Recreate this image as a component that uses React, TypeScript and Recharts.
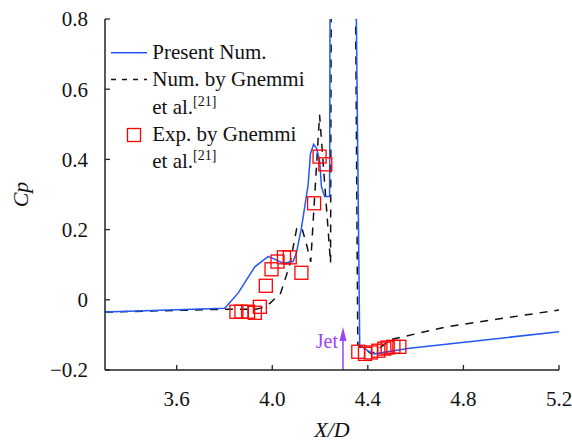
import React from "react";
import {
  ComposedChart,
  Line,
  Scatter,
  XAxis,
  YAxis,
  ReferenceLine,
  ReferenceDot,
  Legend,
} from "recharts";

// ---------- data ----------
const xTicks = [3.6, 4.0, 4.4, 4.8, 5.2];
const yTicks = [-0.2, 0, 0.2, 0.4, 0.6, 0.8];

const presentX = [3.3, 3.801, 3.857, 3.927, 3.982, 4.003, 4.045, 4.087, 4.101, 4.122, 4.15, 4.16, 4.173, 4.185, 4.198, 4.206, 4.219, 4.24, 4.243, 4.346, 4.366, 4.407, 4.428, 4.575, 5.2];
const presentCp = [-0.035, -0.024, 0.019, 0.094, 0.123, 0.118, 0.104, 0.109, 0.133, 0.204, 0.327, 0.417, 0.443, 0.432, 0.398, 0.322, 0.294, 0.294, 1.2, 1.2, -0.129, -0.148, -0.154, -0.138, -0.091];

const gnemmiX = [3.3, 3.8, 3.93, 3.956, 3.99, 4.035, 4.073, 4.102, 4.123, 4.144, 4.161, 4.198, 4.244, 4.248, 4.345, 4.358, 4.416, 4.498, 4.728, 5.2];
const gnemmiCp = [-0.035, -0.027, -0.027, -0.023, -0.01, 0.019, 0.099, 0.202, 0.207, 0.156, 0.108, 0.527, 0.105, 1.2, 1.2, -0.129, -0.154, -0.113, -0.077, -0.029];

const expX = [3.85, 3.871, 3.899, 3.927, 3.948, 3.973, 3.997, 4.022, 4.049, 4.073, 4.122, 4.175, 4.198, 4.222, 4.36, 4.388, 4.413, 4.444, 4.469, 4.483, 4.507, 4.532];
const expCp = [-0.034, -0.034, -0.034, -0.037, -0.02, 0.04, 0.087, 0.109, 0.121, 0.121, 0.077, 0.275, 0.408, 0.386, -0.148, -0.154, -0.15, -0.145, -0.139, -0.136, -0.134, -0.134];

const jetX = [4.296];
const jetTipCp = [-0.0775];

const presentData = presentX.map((x, i) => ({ x, y: presentCp[i] }));
const gnemmiData = gnemmiX.map((x, i) => ({ x, y: gnemmiCp[i] }));
const expData = expX.map((x, i) => ({ x, y: expCp[i] }));

// ---------- styles ----------
const FONT = "'Liberation Serif', 'Times New Roman', serif";
const AXIS = "#222";
const BLUE = "#2457f5";
const RED = "#ff0000";
const PURPLE = "#9b45f5";

const fmtY = (v: number) => (v === 0 ? "0" : v < 0 ? "\u2212" + Math.abs(v).toFixed(1) : v.toFixed(1));

const txt = (size: number, extra: any = {}) => ({
  style: { fontFamily: FONT, fontSize: size, ...extra },
});

const YTick = (props: any) => {
  const { x, y, payload } = props;
  const ax = x + 17;
  return (
    <g>
      <line x1={ax} x2={ax + 5} y1={y} y2={y} stroke={AXIS} strokeWidth={1.3} />
      <text x={x} y={y} dy="0.35em" textAnchor="end" fill="#111" {...txt(21)}>
        {fmtY(payload.value)}
      </text>
    </g>
  );
};

const XTick = (props: any) => {
  const { x, y, payload } = props;
  const ay = y - 36;
  return (
    <g>
      <line x1={x} x2={x} y1={ay} y2={ay - 5} stroke={AXIS} strokeWidth={1.3} />
      <text x={x} y={y} textAnchor="middle" fill="#111" {...txt(21)}>
        {payload.value.toFixed(1)}
      </text>
    </g>
  );
};

const YLabel = (props: any) => {
  const vb = props.viewBox || { x: 0, y: 11, width: 97, height: 351 };
  const cx = vb.x + 12;
  const cy = vb.y + vb.height / 2;
  return (
    <text
      x={cx}
      y={cy}
      transform={`rotate(-90, ${cx}, ${cy})`}
      textAnchor="middle"
      dy="0.35em"
      fill="#111"
      {...txt(22, { fontStyle: "italic" })}
    >
      Cp
    </text>
  );
};

const XLabel = (props: any) => {
  const vb = props.viewBox || { x: 97, y: 362, width: 454, height: 73 };
  return (
    <text
      x={vb.x + vb.width / 2}
      y={vb.y + 67}
      textAnchor="middle"
      fill="#111"
      {...txt(22, { fontStyle: "italic" })}
    >
      X/D
    </text>
  );
};

const Square = (props: any) => {
  const { cx, cy } = props;
  if (cx == null || cy == null) return null;
  return <rect x={cx - 6.5} y={cy - 6.5} width={13} height={13} fill="none" stroke={RED} strokeWidth={1.3} />;
};

const JetHead = (props: any) => {
  const { cx, cy } = props;
  if (cx == null || cy == null) return null;
  return (
    <g>
      <polygon points={`${cx},${cy} ${cx - 3.5},${cy + 14} ${cx + 3.5},${cy + 14}`} fill={PURPLE} />
      <text x={cx - 5} y={cy + 21} textAnchor="end" fill={PURPLE} {...txt(20)}>
        Jet
      </text>
    </g>
  );
};

const LegendContent = () => {
  const t = { fill: "#111", ...txt(21) };
  return (
    <svg width={260} height={160} style={{ overflow: "visible" }}>
      <line x1={3} x2={39} y1={24.7} y2={24.7} stroke={BLUE} strokeWidth={1.5} />
      <text x={44.3} y={31} {...t}>Present Num.</text>
      <line x1={3} x2={39} y1={51.5} y2={51.5} stroke="#111" strokeWidth={1.5} strokeDasharray="5 6" />
      <text x={44.3} y={58} {...t}>Num. by Gnemmi</text>
      <text x={44.3} y={86} {...t}>
        et al.<tspan style={{ fontSize: 14 }} dy={-8}>[21]</tspan>
      </text>
      <rect x={19.5} y={100.5} width={13} height={13} fill="none" stroke={RED} strokeWidth={1.3} />
      <text x={44.3} y={113} {...t}>Exp. by Gnemmi</text>
      <text x={44.3} y={140} {...t}>
        et al.<tspan style={{ fontSize: 14 }} dy={-8}>[21]</tspan>
      </text>
    </svg>
  );
};

export default function App() {
  return (
    <>
      <style>{"body{margin:0}"}</style>
      <div style={{ padding: "8px 0 0 8px", width: 564, height: 435 }}>
        <ComposedChart
          width={564}
          height={435}
          margin={{ top: 11, right: 13, bottom: 0, left: 0 }}
          style={{ fontFamily: FONT }}
        >
          <XAxis
            dataKey="x"
            type="number"
            domain={[3.3, 5.2]}
            ticks={xTicks}
            allowDataOverflow
            height={73}
            tickSize={0}
            tickMargin={36}
            tickLine={false}
            axisLine={{ stroke: AXIS, strokeWidth: 1.5 }}
            tick={<XTick />}
            label={XLabel}
            interval={0}
          />
          <XAxis
            xAxisId="top"
            orientation="top"
            type="number"
            domain={[3.3, 5.2]}
            height={0}
            tick={false}
            tickLine={false}
            axisLine={{ stroke: AXIS, strokeWidth: 1.5 }}
          />
          <YAxis
            type="number"
            domain={[-0.2, 0.8]}
            ticks={yTicks}
            allowDataOverflow
            width={97}
            tickSize={0}
            tickMargin={17}
            tickLine={false}
            axisLine={{ stroke: AXIS, strokeWidth: 1.5 }}
            tick={<YTick />}
            label={YLabel}
            interval={0}
          />
          <YAxis
            yAxisId="right"
            orientation="right"
            type="number"
            domain={[-0.2, 0.8]}
            width={0}
            tick={false}
            tickLine={false}
            axisLine={{ stroke: AXIS, strokeWidth: 1.5 }}
          />
          <Legend
            verticalAlign="middle"
            align="center"
            content={<LegendContent />}
            wrapperStyle={{ position: "absolute", left: 100, top: 20, width: 260, height: 160 }}
          />
          <Line
            data={gnemmiData}
            dataKey="y"
            type="linear"
            stroke="#111"
            strokeWidth={1.5}
            strokeDasharray="8 7"
            dot={false}
            activeDot={false}
            isAnimationActive={false}
            legendType="none"
          />
          <Line
            data={presentData}
            dataKey="y"
            type="linear"
            stroke={BLUE}
            strokeWidth={1.5}
            dot={false}
            activeDot={false}
            isAnimationActive={false}
            legendType="none"
          />
          <Scatter data={expData} dataKey="y" shape={<Square />} isAnimationActive={false} legendType="none" />
          <ReferenceLine
            segment={[
              { x: jetX[0], y: -0.2 },
              { x: jetX[0], y: jetTipCp[0] - 0.02 },
            ]}
            stroke={PURPLE}
            strokeWidth={1.5}
          />
          <ReferenceDot x={jetX[0]} y={jetTipCp[0]} r={0} shape={<JetHead />} />
        </ComposedChart>
      </div>
    </>
  );
}
